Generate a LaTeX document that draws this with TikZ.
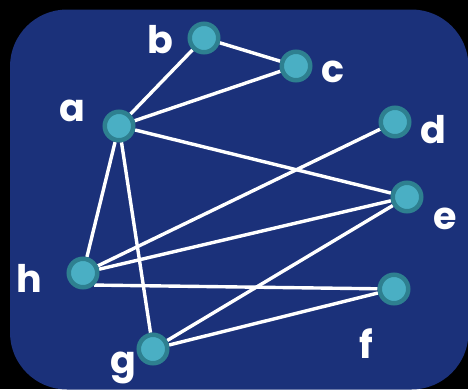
\documentclass[tikz,border=0pt]{standalone}
\usepackage{fontspec}
\setmainfont{Poppins}
\pgfdeclarelayer{back}
\pgfdeclarelayer{edges}
\pgfsetlayers{back,edges,main}
\definecolor{panelblue}{RGB}{27,49,122}
\definecolor{vfill}{RGB}{74,175,196}
\definecolor{vring}{RGB}{46,128,144}
\tikzset{
  vertex/.style={circle, fill=vfill, draw=vring, line width=4.5pt,
    minimum size=28.5pt, inner sep=0pt},
  vlabel/.style={text=white, font=\fontsize{38}{40}\selectfont\bfseries,
    anchor=base, inner sep=0pt},
  edge/.style={draw=white, line width=3.4pt}
}
\begin{document}
\begin{tikzpicture}[x=1pt, y=-1pt]
  \useasboundingbox (0,0) rectangle (468,389);
  \begin{pgfonlayer}{back}
    \fill[black] (0,0) rectangle (468,389);
    \fill[panelblue, rounded corners=57pt] (10,9.5) rectangle (468.5,389.5);
  \end{pgfonlayer}

  % vertices
  \node[vertex] (a) at (119,126) {};
  \node[vertex] (b) at (204,38) {};
  \node[vertex] (c) at (296,66) {};
  \node[vertex] (d) at (395,122) {};
  \node[vertex] (e) at (407,197) {};
  \node[vertex] (f) at (394,289) {};
  \node[vertex] (g) at (153,349) {};
  \node[vertex] (h) at (83,273) {};

  % vertex names
  \node[vlabel] (la) at (72,121) {a};
  \node[vlabel] (lb) at (160,53) {b};
  \node[vlabel] (lc) at (333,82) {c};
  \node[vlabel] (ld) at (433,143) {d};
  \node[vlabel] (le) at (445,229) {e};
  \node[vlabel] (lf) at (366,358) {f};
  \node[vlabel] (lg) at (123,373) {g};
  \node[vlabel] (lh) at (29,292) {h};

  % edges
  \begin{pgfonlayer}{edges}
    \draw[edge] (a) -- (b);
    \draw[edge] (b) -- (c);
    \draw[edge] (a) -- (c);
    \draw[edge] (a) -- (e);
    \draw[edge] (a) -- (h);
    \draw[edge] (a) -- (g);
    \draw[edge] (h) -- (d);
    \draw[edge] (h) -- (e);
    \draw[edge] (h.-47) -- (f);
    \draw[edge] (g) -- (e);
    \draw[edge] (g) -- (f);
  \end{pgfonlayer}
\end{tikzpicture}
\end{document}
